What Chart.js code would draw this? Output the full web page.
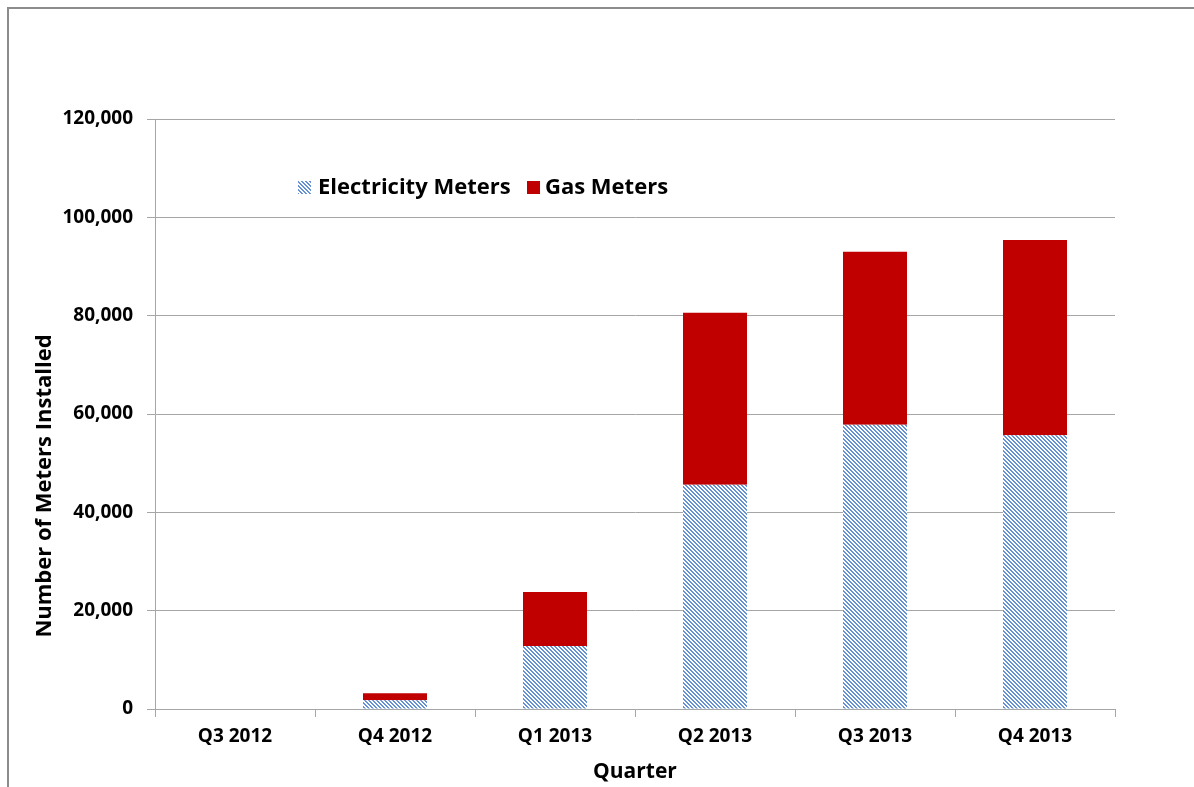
<!DOCTYPE html>
<html>
<head>
<meta charset="utf-8">
<script src="https://cdn.jsdelivr.net/npm/chart.js@4"></script>
<style>
html,body{margin:0;padding:0;background:#fff;overflow:hidden;}
canvas{display:block;}
</style>
</head>
<body>
<canvas id="c" width="1194" height="787"></canvas>
<script>
const categories = ["Q3 2012", "Q4 2012", "Q1 2013", "Q2 2013", "Q3 2013", "Q4 2013"];
const electricityMeters = [0, 1800, 12800, 45600, 57800, 55700];
const gasMeters = [0, 1400, 11000, 35000, 35200, 39700];
const yTicks = [0, 20000, 40000, 60000, 80000, 100000, 120000];
const seriesNames = ["Electricity Meters", "Gas Meters"];

const FONT = "'Open Sans', Lato, sans-serif";

function makeHatch() {
  const p = document.createElement('canvas');
  p.width = 4; p.height = 4;
  const g = p.getContext('2d');
  g.fillStyle = '#ffffff';
  g.fillRect(0, 0, 4, 4);
  g.fillStyle = '#6592d4';
  for (let i = 0; i < 4; i++) {
    g.fillRect(i, i, 1, 1);
    g.fillRect((i + 1) % 4, i, 1, 1);
  }
  return g.createPattern(p, 'repeat');
}
const ctx0 = document.getElementById('c').getContext('2d');
const hatch = makeHatch();
const red = '#c00000';

const decor = {
  id: 'decor',
  beforeDraw(chart) {
    const c = chart.ctx;
    c.save();
    c.fillStyle = '#fff';
    c.fillRect(0, 0, chart.width, chart.height);
    c.strokeStyle = '#8c8c8c';
    c.lineWidth = 2;
    c.beginPath();
    c.moveTo(8, chart.height);
    c.lineTo(8, 8);
    c.lineTo(chart.width, 8);
    c.stroke();
    c.restore();
  },
  afterDraw(chart) {
    const c = chart.ctx;
    const a = chart.chartArea;
    c.save();
    c.fillStyle = '#000';
    c.font = "bold 21px " + FONT;
    c.textAlign = 'center';
    c.textBaseline = 'middle';
    c.fillText("Quarter", (a.left + a.right) / 2, 772);
    c.font = "bold 22px " + FONT;
    c.translate(45, 486);
    c.rotate(-Math.PI / 2);
    c.fillText("Number of Meters Installed", 0, 0);
    c.restore();

    // legend
    c.save();
    c.font = "bold 22px " + FONT;
    c.textBaseline = 'middle';
    c.textAlign = 'left';
    c.fillStyle = hatch;
    c.fillRect(298, 181, 13, 13);
    c.fillStyle = '#000';
    c.fillText(seriesNames[0], 318, 188);
    c.fillStyle = red;
    c.fillRect(527, 181, 13, 13);
    c.fillStyle = '#000';
    c.fillText(seriesNames[1], 545, 188);
    c.restore();
  }
};

new Chart(ctx0, {
  type: 'bar',
  data: {
    labels: categories,
    datasets: [
      { label: seriesNames[0], data: electricityMeters, backgroundColor: hatch, borderWidth: 0 },
      { label: seriesNames[1], data: gasMeters, backgroundColor: red, borderWidth: 0 }
    ]
  },
  options: {
    responsive: false,
    animation: false,
    devicePixelRatio: 1,
    layout: { padding: { left: 0, top: 119, right: 79, bottom: 0 } },
    datasets: { bar: { categoryPercentage: 1.0, barPercentage: 0.4 } },
    plugins: { legend: { display: false }, tooltip: { enabled: false } },
    scales: {
      x: {
        stacked: true,
        afterFit(s) { s.height = 78; },
        grid: { offset: true, drawOnChartArea: false, drawTicks: true, tickLength: 8, color: '#a6a6a6', lineWidth: 1 },
        border: { display: true, color: '#a6a6a6', width: 1 },
        ticks: { color: '#000', font: { family: FONT, size: 19, weight: 'bold' }, padding: 8, maxRotation: 0 }
      },
      y: {
        stacked: true,
        min: 0,
        max: 120000,
        afterFit(s) { s.width = 155; },
        afterBuildTicks(s) { s.ticks = yTicks.map(v => ({ value: v })); },
        grid: { color: '#a6a6a6', lineWidth: 1, drawTicks: true, tickLength: 8 },
        border: { display: true, color: '#a6a6a6', width: 1 },
        ticks: {
          color: '#000',
          font: { family: FONT, size: 19, weight: 'bold' },
          padding: 14,
          callback: v => v.toLocaleString('en-US')
        }
      }
    }
  },
  plugins: [decor]
});
</script>
</body>
</html>
